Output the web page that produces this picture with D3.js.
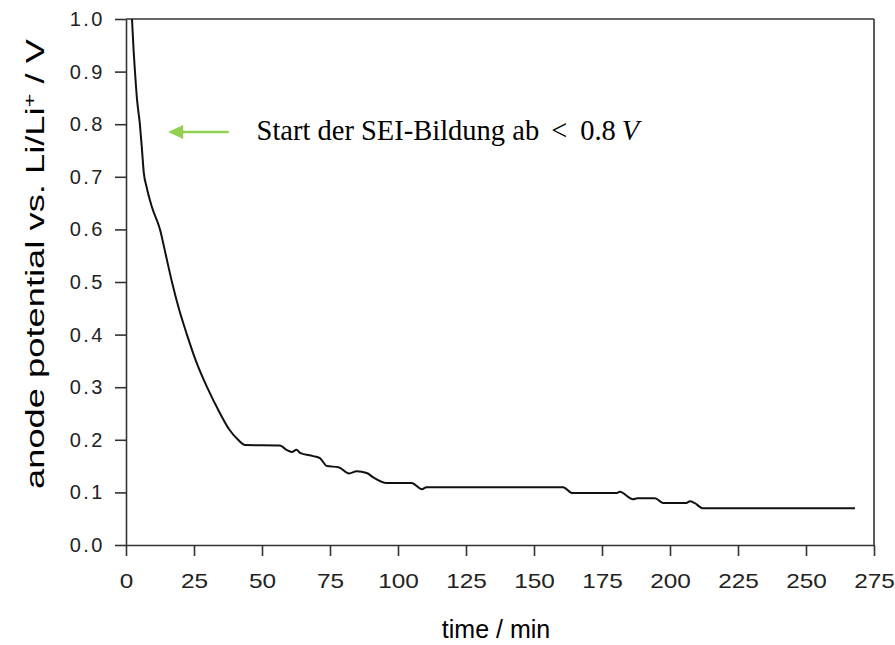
<!DOCTYPE html>
<html>
<head>
<meta charset="utf-8">
<script src="https://cdn.jsdelivr.net/npm/d3@7"></script>
<style>
  html, body { margin: 0; padding: 0; background: #fff; }
  svg { display: block; }
</style>
</head>
<body>
<svg id="chart" width="895" height="645"></svg>
<script>
// ---- data ----
const timeMin = [2.2, 2.8, 3.3, 4.0, 5.1, 5.9, 6.5, 7.6, 9.5, 12.5, 14.7, 16.9, 19.4, 22.4, 25.7, 29.8, 34.6, 37.9, 41.2, 43.8,
  56.6, 59.0, 61.0, 62.7, 64.0, 68.8, 71.3, 73.9, 78.1, 82.0, 84.8, 88.5, 90.8, 95.8,
  105.0, 108.8, 110.5, 160.7, 164.0, 180.5, 181.5, 186.4, 188.0, 194.5, 197.4, 206.0, 207.3, 209.0, 212.0, 268.0];
const potentialV = [1.0, 0.94, 0.90, 0.85, 0.80, 0.75, 0.71, 0.68, 0.643, 0.60, 0.55, 0.50, 0.45, 0.40, 0.35, 0.30, 0.25, 0.22, 0.20, 0.19,
  0.189, 0.181, 0.177, 0.181, 0.175, 0.169, 0.165, 0.150, 0.148, 0.136, 0.140, 0.137, 0.129, 0.118,
  0.118, 0.106, 0.110, 0.110, 0.099, 0.099, 0.101, 0.087, 0.089, 0.089, 0.080, 0.080, 0.083, 0.080, 0.070, 0.070];
const xTicks = [0, 25, 50, 75, 100, 125, 150, 175, 200, 225, 250, 275];
const yTicks = [0.0, 0.1, 0.2, 0.3, 0.4, 0.5, 0.6, 0.7, 0.8, 0.9, 1.0];
const xTitle = "time / min";
const annotationText = "Start der SEI-Bildung ab";
const arrowFrom = [37.8, 0.785];   // [time, potential]
const arrowTo = [15.5, 0.785];
const textAt = [48.0, 0.77];

// ---- layout ----
const svg = d3.select("#chart");
const L = 126, R = 874, T = 19, B = 545;
const x = d3.scaleLinear().domain([0, 275]).range([L, R]);
const y = d3.scaleLinear().domain([0, 1]).range([B, T]);
const axisColor = "#333";
const tickFont = "'Liberation Sans', Arial, sans-serif";

svg.append("defs").append("clipPath").attr("id", "plotclip")
  .append("rect").attr("x", L).attr("y", T).attr("width", R - L).attr("height", B - T);

// frame (top + right)
svg.append("line").attr("x1", L).attr("x2", R).attr("y1", T).attr("y2", T)
  .attr("stroke", axisColor).attr("stroke-width", 1.6);
svg.append("line").attr("x1", R).attr("x2", R).attr("y1", T).attr("y2", B)
  .attr("stroke", axisColor).attr("stroke-width", 1.6);

// x axis
const gx = svg.append("g").attr("transform", `translate(0,${B})`)
  .call(d3.axisBottom(x).tickValues(xTicks).tickSize(11).tickPadding(18).tickSizeOuter(0).tickFormat(d3.format("d")));
// y axis
const gy = svg.append("g").attr("transform", `translate(${L},0)`)
  .call(d3.axisLeft(y).tickValues(yTicks).tickSize(11).tickPadding(10).tickSizeOuter(0).tickFormat(d3.format(".1f")));

[gx, gy].forEach(g => {
  g.select(".domain").attr("stroke", axisColor).attr("stroke-width", 1.6);
  g.selectAll(".tick line").attr("stroke", axisColor).attr("stroke-width", 1.6);
  g.selectAll(".tick text").attr("fill", "#222").attr("font-family", tickFont).attr("font-size", 20);
});
gx.selectAll(".tick text").attr("transform", "scale(1.22,1)");
gy.selectAll(".tick text").attr("letter-spacing", 2.5).attr("x", -21);

// curve
const pts = timeMin.map((t, i) => [t, potentialV[i]]);
svg.append("path").datum(pts)
  .attr("clip-path", "url(#plotclip)")
  .attr("fill", "none").attr("stroke", "#111").attr("stroke-width", 2)
  .attr("stroke-linejoin", "round")
  .attr("d", d3.line().x(d => x(d[0])).y(d => y(d[1])).curve(d3.curveMonotoneX));

// axis titles
svg.append("text")
  .attr("x", 496).attr("y", 638)
  .attr("text-anchor", "middle").attr("font-family", tickFont).attr("font-size", 25).attr("fill", "#000")
  .text(xTitle);

const yt = svg.append("text")
  .attr("transform", `translate(44,264) rotate(-90)`)
  .attr("text-anchor", "middle").attr("font-family", tickFont).attr("font-size", 26).attr("fill", "#000")
  .attr("textLength", 450).attr("lengthAdjust", "spacingAndGlyphs");
yt.append("tspan").text("anode potential vs. Li/Li");
yt.append("tspan").attr("baseline-shift", "super").attr("font-size", 17).text("+");
yt.append("tspan").text(" / V");

// annotation arrow
const green = "#92D050";
const ax1 = x(arrowFrom[0]), ax2 = x(arrowTo[0]), ay = y(arrowFrom[1]);
svg.append("line").attr("x1", ax1).attr("x2", ax2 + 12).attr("y1", ay).attr("y2", ay)
  .attr("stroke", green).attr("stroke-width", 2.5);
svg.append("path")
  .attr("d", `M${ax2},${ay} L${ax2 + 15},${ay - 7} L${ax2 + 15},${ay + 7} Z`)
  .attr("fill", green);

// annotation text
const at = svg.append("text")
  .attr("x", x(textAt[0])).attr("y", y(textAt[1]))
  .attr("font-family", "'Liberation Serif', 'Times New Roman', serif").attr("font-size", 28.5).attr("fill", "#000");
at.append("tspan").text(annotationText);
at.append("tspan").attr("dx", 12).text("<");
at.append("tspan").attr("dx", 13).text("0.8");
at.append("tspan").attr("dx", 6).attr("font-style", "italic").text("V");
</script>
</body>
</html>
